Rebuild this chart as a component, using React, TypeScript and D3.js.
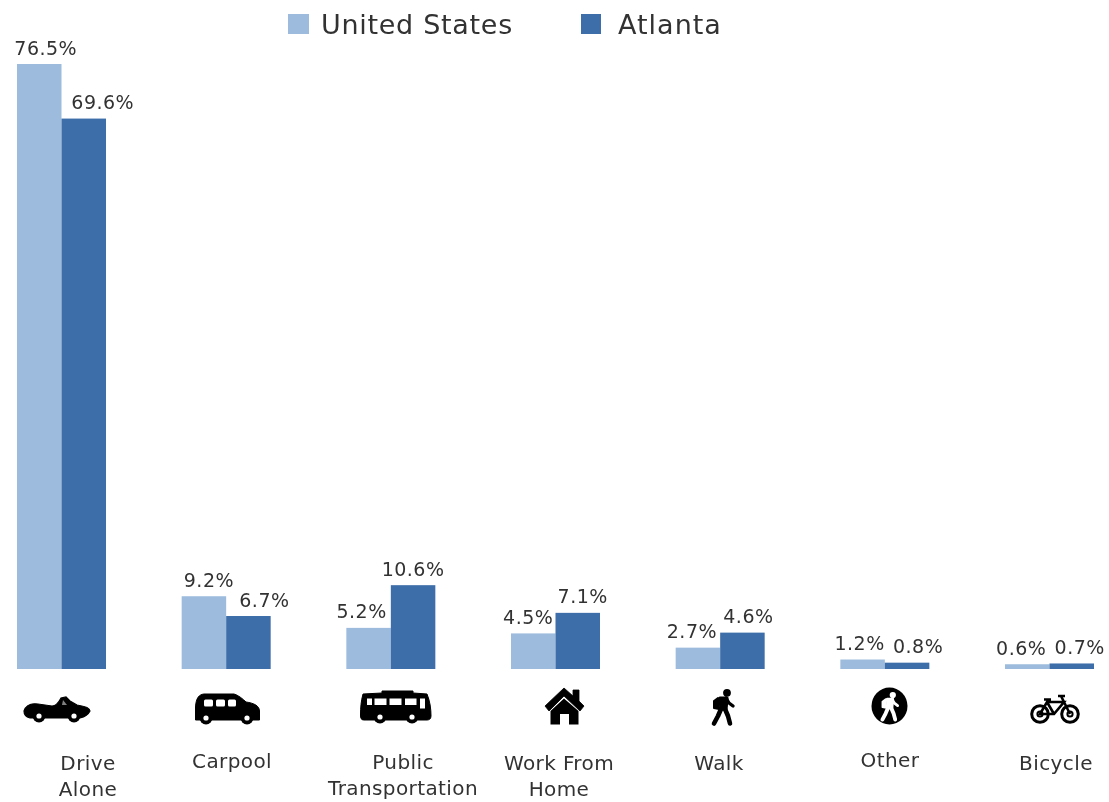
import React from "react";
import * as d3 from "d3";

const categories = ["Drive Alone", "Carpool", "Public Transportation", "Work From Home", "Walk", "Other", "Bicycle"];
const seriesNames = ["United States", "Atlanta"];
const unitedStates = [76.5, 9.2, 5.2, 4.5, 2.7, 1.2, 0.6];
const atlanta = [69.6, 6.7, 10.6, 7.1, 4.6, 0.8, 0.7];
const categoryLines = [["Drive", "Alone"], ["Carpool"], ["Public", "Transportation"], ["Work From", "Home"], ["Walk"], ["Other"], ["Bicycle"]];

const W = 1109, H = 802;
const LIGHT = "#9dbbdd", DARK = "#3e6ea9", TEXT = "#333";
const FONT = "'DejaVu Sans', sans-serif";

const x0 = d3.scaleBand<string>().domain(categories).range([17, 1094]).paddingInner(0.4595);
const x1 = d3.scaleBand<string>().domain(seriesNames).range([0, x0.bandwidth()]);
const y = d3.scaleLinear().domain([0, 76.5]).range([669, 64]);

// label nudges in px relative to bar centre (the source hand-placed them to avoid collisions)
const nudgeUS = [6.5, 5, -7, -5, -6, -3, -6];
const nudgeAT = [19, 16, 0, 5, 6, 11, 8];
const labelCenterX = [88, 232, 403, 559, 719, 890, 1056];
const labelBase = [770, 768, 769, 770, 770, 767, 770];

const Wheel = ({ cx, cy, r = 6.5 }: any) => (<g><circle cx={cx} cy={cy} r={r} fill="#000" /><circle cx={cx} cy={cy} r={r * 0.4} fill="#fff" /></g>);

const Car = () => (<g>
  <path d="M24,711 C26,705 31,703 38,704 L52,706 C56,706 59,702 61,698 L66,697 L70,701 L77,705 C84,706 90,708 90,711 C88,715 84,717 80,718 L30,718 C26,717 24,714 24,711 Z" fill="#000" stroke="#000" strokeWidth={1.2} />
  <path d="M63,700 L67,705 L62,705 Z" fill="#fff" opacity={0.5} />
  <Wheel cx={39} cy={716} r={6.5} /><Wheel cx={74} cy={716} r={6.5} />
</g>);

const Van = () => (<g>
  <path d="M195.5,717 L195.5,707 C196,698 199,694.5 204,694 L234,694 C238,695 243,699 246,702 C254,703 259.5,706 259.5,711 L259.5,720 L195.5,720 Z" fill="#000" stroke="#000" strokeWidth={1} />
  <rect x={204} y={699.5} width={9} height={7} rx={1.5} fill="#fff" />
  <rect x={216} y={699.5} width={9} height={7} rx={1.5} fill="#fff" />
  <rect x={228} y={699.5} width={8} height={7} rx={1.5} fill="#fff" />
  <Wheel cx={206} cy={718} r={6.5} /><Wheel cx={247} cy={718} r={6.5} />
</g>);

const Bus = () => (<g>
  <path d="M363,694 L382,693 L382,691 L413,691 L413,693 L427,694 C430,701 431,709 431,716 C431,719 429,720 427,720 L364,720 C361,720 360.5,718 360.5,715 C360.5,708 361,701 363,694 Z" fill="#000" stroke="#000" strokeWidth={1} />
  <rect x={367} y={698.5} width={5} height={6.5} fill="#fff" />
  <rect x={374.5} y={698.5} width={12} height={6.5} fill="#fff" />
  <rect x={389.5} y={698.5} width={12} height={6.5} fill="#fff" />
  <rect x={405} y={698.5} width={11.5} height={6.5} fill="#fff" />
  <rect x={420} y={698.5} width={5} height={10} fill="#fff" />
  <Wheel cx={380} cy={717} r={6.5} /><Wheel cx={412} cy={717} r={6.5} />
</g>);

const House = () => (<g>
  <path d="M545,706 L564,688 L573,696 L573,690 L579,690 L579,701 L584,706 L580,711 L564,696 L549,711 Z" fill="#000" stroke="#000" strokeWidth={0.8} />
  <path d="M550.5,711 L564,698.5 L578.5,711 L578.5,724.5 L569,724.5 L569,714 L560,714 L560,724.5 L550.5,724.5 Z" fill="#000" />
</g>);

const Walker = ({ c = "#000", w = 1 }: any) => (<g fill={c} stroke={c} strokeLinecap="round" strokeLinejoin="round">
  <circle cx={16} cy={3.8} r={3.9} stroke="none" />
  <path d="M9,9 L16,9 L15,20 L10,20 Z" strokeWidth={3.2 * w} />
  <path d="M15,9 L18,14 L22,17" fill="none" strokeWidth={3.4 * w} />
  <path d="M7,9 L3,12 L3,19 L8,20 Z" strokeWidth={2 * w} />
  <path d="M10,20 L7,27 L3,34.5" fill="none" strokeWidth={4.6 * w} />
  <path d="M14,20 L17,27 L19,34.5" fill="none" strokeWidth={4.6 * w} />
</g>);

const Walk = () => (<g transform="translate(711,689)"><Walker /></g>);

const Other = () => (<g>
  <ellipse cx={889.5} cy={706} rx={18} ry={18.5} fill="#000" />
  <g transform="translate(880,692) scale(0.8)"><Walker c="#fff" w={1.05} /></g>
</g>);

const Bike = () => (<g fill="none" stroke="#000">
  <circle cx={1040} cy={714} r={8.3} strokeWidth={3} />
  <circle cx={1070} cy={714} r={8.3} strokeWidth={3} />
  <circle cx={1040} cy={714} r={2.6} strokeWidth={2} />
  <circle cx={1070} cy={714} r={2.6} strokeWidth={2} />
  <path d="M1040,714 L1047,702 L1064,702 L1054,714 Z M1064,702 L1070,714 M1061,696 L1064,702 M1058,696 L1065,696 M1044,699.5 L1051,699.5 M1047,702 L1054,714" strokeWidth={2.6} />
</g>);

const pct = (v: number) => `${v.toFixed(1)}%`;

export default function App() {
  const series = [unitedStates, atlanta];
  const colors = [LIGHT, DARK];
  const nudges = [nudgeUS, nudgeAT];
  return (
    <svg width={W} height={H} viewBox={`0 0 ${W} ${H}`} style={{ position: "absolute", left: 0, top: 0, background: "#fff" }} fontFamily={FONT}>
      <defs>
        <filter id="soft" x="-5%" y="-5%" width="110%" height="110%"><feGaussianBlur stdDeviation="0.5" /></filter>
      </defs>
      <g filter="url(#soft)">
        <rect x={288} y={14} width={21} height={20} fill={LIGHT} />
        <text x={321} y={33.5} fontSize={27} fill={TEXT} letterSpacing={0.7}>{seriesNames[0]}</text>
        <rect x={581} y={14} width={20} height={20} fill={DARK} />
        <text x={618} y={33.5} fontSize={27} fill={TEXT} letterSpacing={1}>{seriesNames[1]}</text>

        {categories.map((c, i) => (
          <g key={c}>
            {seriesNames.map((s, k) => {
              const v = series[k][i];
              const bx = x0(c)! + x1(s)!;
              const bw = x1.bandwidth();
              return (
                <g key={s}>
                  <rect x={bx} y={y(v)} width={bw} height={y(0) - y(v)} fill={colors[k]} />
                  <text x={bx + bw / 2 + nudges[k][i]} y={y(v) - 9.5} textAnchor="middle" fontSize={19} fill={TEXT} letterSpacing={0.5}>{pct(v)}</text>
                </g>
              );
            })}
            {categoryLines[i].map((l, j) => (
              <text key={l} x={labelCenterX[i]} y={labelBase[i] + j * 26} textAnchor="middle" fontSize={20} fill={TEXT} letterSpacing={0.4}>{l}</text>
            ))}
          </g>
        ))}
        <Car /><Van /><Bus /><House /><Walk /><Other /><Bike />
      </g>
    </svg>
  );
}
